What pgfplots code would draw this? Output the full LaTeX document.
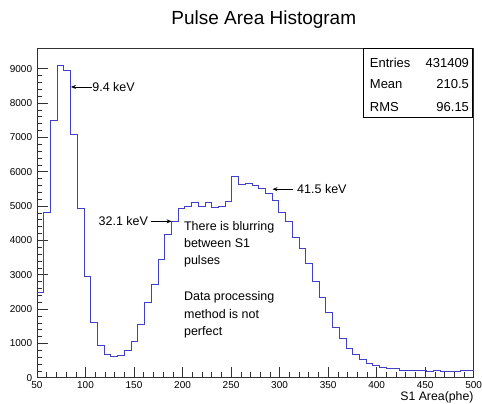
\documentclass[border=0pt]{standalone}
\usepackage{fontspec}
\setmainfont{Liberation Sans}
\usepackage{pgfplots}
\pgfplotsset{compat=1.18}
\usepackage{pgfplotstable}
\usetikzlibrary{arrows.meta}

\definecolor{histblue}{RGB}{64,64,200}
\definecolor{framegray}{RGB}{50,50,50}

% S1 pulse area histogram: 65 bins from 50 to 500 phe (left edge, count);
% the final row closes the last bin at 500.
\pgfplotstableread{
edge   count
50.00  2470
56.92  4810
63.85  7480
70.77  9100
77.69  8940
84.62  7090
91.54  4940
98.46  2950
105.38 1620
112.31 950
119.23 670
126.15 610
133.08 660
140.00 790
146.92 1060
153.85 1560
160.77 2180
167.69 2720
174.62 3450
181.54 4170
188.46 4560
195.38 4920
202.31 5000
209.23 5110
216.15 4990
223.08 5090
230.00 4970
236.92 4980
243.85 5140
250.77 5860
257.69 5640
264.62 5650
271.54 5590
278.46 5520
285.38 5380
292.31 5150
299.23 4820
306.15 4540
313.08 4090
320.00 3770
326.92 3330
333.85 2810
340.77 2330
347.69 1910
354.62 1475
361.54 1155
368.46 865
375.38 670
382.31 525
389.23 425
396.15 350
403.08 290
410.00 275
416.92 260
423.85 225
430.77 220
437.69 215
444.62 200
451.54 185
458.46 200
465.38 195
472.31 195
479.23 175
486.15 215
493.08 215
500.00 215
}\pulsearea

\newcommand{\annot}{\fontsize{12.5bp}{15bp}\selectfont}
\newcommand{\stat}{\fontsize{13bp}{15bp}\selectfont}

\begin{document}
\begin{tikzpicture}
\begin{axis}[
  name=ax,
  scale only axis,
  width=437bp, height=330bp,
  xmin=50, xmax=500, ymin=0, ymax=9600,
  xtick={50,100,...,500},
  ytick={0,1000,...,9000},
  minor tick num=4,
  tick align=inside,
  tick pos=left,
  major tick length=11bp,
  minor tick length=5.5bp,
  axis line style={framegray, line width=0.6bp},
  every tick/.style={framegray, line width=0.5bp},
  /pgf/number format/assume math mode=true,
  /pgf/number format/1000 sep={},
  scaled y ticks=false,
  ticklabel style={font=\fontsize{10bp}{12bp}\selectfont, inner sep=0pt},
  xticklabel style={yshift=-3.5bp},
  yticklabel style={xshift=-4.7bp},
  xlabel={S1 Area(phe)},
  xlabel style={at={(rel axis cs:1,0)}, anchor=base east, yshift=-23bp,
                inner sep=0pt, font=\fontsize{12.3bp}{14bp}\selectfont},
  clip mode=individual,
]
\addplot[const plot, histblue, line width=0.8bp] table[x=edge, y=count] {\pulsearea};

% peak annotations
\draw[-{Stealth[length=5bp,width=4bp]}, line width=0.7bp]
  (axis cs:106.6,8465) -- (axis cs:85.0,8465);
\node[anchor=west, inner sep=0pt, font=\annot] at (axis cs:106.9,8465) {9.4 keV};

\draw[-{Stealth[length=5bp,width=4bp]}, line width=0.7bp]
  (axis cs:167.1,4553) -- (axis cs:188.7,4553);
\node[anchor=east, inner sep=0pt, font=\annot] at (axis cs:164.6,4553) {32.1 keV};

\draw[-{Stealth[length=5bp,width=4bp]}, line width=0.7bp]
  (axis cs:313.9,5489) -- (axis cs:292.7,5489);
\node[anchor=west, inner sep=0pt, font=\annot] at (axis cs:318.0,5489) {41.5 keV};

% remarks
\node[anchor=base west, inner sep=0pt, font=\annot] at (axis cs:201.4,4300) {There is blurring};
\node[anchor=base west, inner sep=0pt, font=\annot] at (axis cs:201.4,3788) {between S1};
\node[anchor=base west, inner sep=0pt, font=\annot] at (axis cs:201.4,3302) {pulses};
\node[anchor=base west, inner sep=0pt, font=\annot] at (axis cs:201.4,2234) {Data processing};
\node[anchor=base west, inner sep=0pt, font=\annot] at (axis cs:201.4,1731) {method is not};
\node[anchor=base west, inner sep=0pt, font=\annot] at (axis cs:201.4,1216) {perfect};
\end{axis}

% title
\node[anchor=base, inner sep=0pt, font=\fontsize{19bp}{22bp}\selectfont]
  at ([xshift=227bp, yshift=23.2bp]ax.north west) {Pulse Area Histogram};

% statistics box
\draw[black, line width=0.6bp, fill=white]
  ([xshift=-110bp, yshift=-69bp]ax.north east) rectangle ([xshift=-1.5bp]ax.north east);
\node[anchor=base west, inner sep=0pt, font=\stat] at ([xshift=-104bp, yshift=-19.4bp]ax.north east) {Entries};
\node[anchor=base east, inner sep=0pt, font=\stat] at ([xshift=-4.5bp, yshift=-19.4bp]ax.north east) {431409};
\node[anchor=base west, inner sep=0pt, font=\stat] at ([xshift=-104bp, yshift=-41bp]ax.north east) {Mean};
\node[anchor=base east, inner sep=0pt, font=\stat] at ([xshift=-4.5bp, yshift=-41bp]ax.north east) {210.5};
\node[anchor=base west, inner sep=0pt, font=\stat] at ([xshift=-104bp, yshift=-63.4bp]ax.north east) {RMS};
\node[anchor=base east, inner sep=0pt, font=\stat] at ([xshift=-4.5bp, yshift=-63.4bp]ax.north east) {96.15};

\useasboundingbox ([xshift=-37bp, yshift=-26bp]ax.south west)
  rectangle ([xshift=8bp, yshift=48bp]ax.north east);
\end{tikzpicture}
\end{document}
